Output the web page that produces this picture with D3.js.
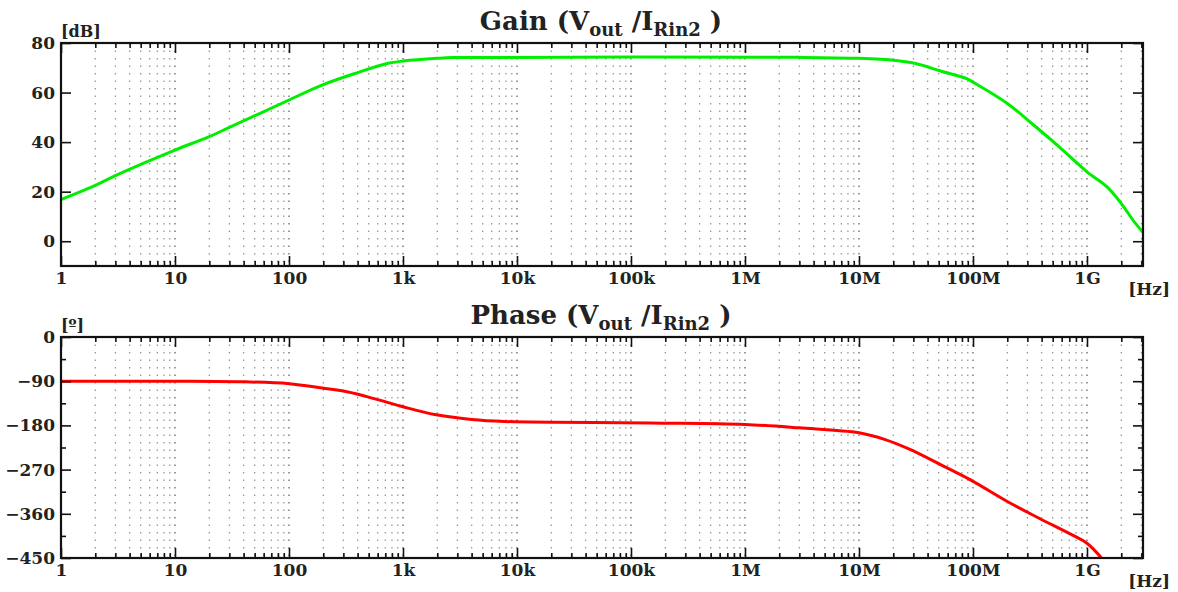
<!DOCTYPE html>
<html>
<head>
<meta charset="utf-8">
<script src="https://cdn.jsdelivr.net/npm/d3@7"></script>
<style>
  body { margin: 0; background: #fff; }
  svg text { font-family: "DejaVu Serif", serif; font-weight: bold; fill: #222; }
</style>
</head>
<body>
<div class="d3-chart"></div>
<script>
// values
const gainFreq = [1, 2, 3, 10, 19.5, 29, 100, 195, 380, 740, 1e3, 2e3, 2.8e3, 3e6, 1e7, 2.1e7, 3.2e7, 5.1e7, 8.8e7, 1e8, 2e8, 3.4e8, 5.7e8, 1e9, 1.5e9, 2e9, 2.6e9, 3.1e9];
const gainDb   = [16.8, 22.5, 26.5, 36.8, 42.0, 45.6, 57, 63, 67.7, 71.8, 72.7, 73.8, 74.1, 74.2, 73.8, 72.9, 71.6, 68.8, 65.6, 64.2, 55.6, 46.9, 38.1, 28, 21.9, 15.2, 7.8, 3.6];

const phaseFreq = [1, 10, 35, 100, 195, 330, 570, 1e3, 1.9e3, 4e3, 7.7e3, 1.48e5, 1e6, 3e6, 1e7, 1.7e7, 2.8e7, 5.1e7, 9.5e7, 2e8, 3.8e8, 7.4e8, 1e9, 1.4e9];
const phaseDeg  = [-90, -90, -91, -95, -104, -112, -126, -142, -158, -168, -172, -175, -178, -185, -195, -209, -229, -259, -291, -335, -369, -403, -420, -455];

const xMajor = [1, 10, 100, 1e3, 1e4, 1e5, 1e6, 1e7, 1e8, 1e9];
const xLabels = ["1", "10", "100", "1k", "10k", "100k", "1M", "10M", "100M", "1G"];
const gainTicks = [0, 20, 40, 60, 80];
const phaseTicks = [0, -90, -180, -270, -360, -450];
const phaseMinor = [-45, -135, -225, -315, -405];

const W = 1178, H = 592;
const left = 61, right = 1143;
const fMax = 3.1e9;

const svg = d3.select(".d3-chart")
  .append("svg")
  .attr("width", W)
  .attr("height", H);

const x = d3.scaleLog()
  .domain([1, fMax])
  .range([left, right]);

// minor positions 2..9 in every decade
const xMinor = [];
for (let d = 0; d < 10; d++) {
  for (let m = 2; m <= 9; m++) {
    const v = m * Math.pow(10, d);
    if (v < fMax) xMinor.push(v);
  }
}

function panel(opt) {
  const y = d3.scaleLinear().domain(opt.yDomain).range([opt.bottom, opt.top]);
  const g = svg.append("g");

  // dotted vertical grid
  g.append("g")
    .selectAll("line")
    .data(xMinor.concat(xMajor.slice(1)))
    .join("line")
    .attr("x1", d => x(d)).attr("x2", d => x(d))
    .attr("y1", opt.top).attr("y2", opt.bottom)
    .attr("stroke", d => xMajor.includes(d) ? "#666" : "#999")
    .attr("stroke-width", 1.3)
    .attr("stroke-dasharray", "1.4,6.1");

  // curve, clipped to the plot box
  const clipId = "clip" + opt.top;
  svg.append("clipPath").attr("id", clipId)
    .append("rect")
    .attr("x", left).attr("y", opt.top)
    .attr("width", right - left).attr("height", opt.bottom - opt.top);

  g.append("path")
    .datum(d3.zip(opt.xs, opt.ys))
    .attr("clip-path", `url(#${clipId})`)
    .attr("fill", "none")
    .attr("stroke", opt.color)
    .attr("stroke-width", 3)
    .attr("stroke-linejoin", "round")
    .attr("d", d3.line().curve(d3.curveCatmullRom.alpha(0.5))
      .x(d => x(d[0]))
      .y(d => y(d[1])));

  // X axes: bottom with labels, top mirrored, inward ticks
  const fmt = d => xLabels[xMajor.indexOf(d)];
  g.append("g")
    .attr("transform", `translate(0, ${opt.bottom})`)
    .call(d3.axisBottom(x).tickValues(xMajor).tickFormat(fmt).tickSizeInner(-10).tickSizeOuter(0).tickPadding(6));
  g.append("g")
    .attr("transform", `translate(0, ${opt.bottom})`)
    .call(d3.axisBottom(x).tickValues(xMinor).tickFormat("").tickSizeInner(-5).tickSizeOuter(0));
  g.append("g")
    .attr("transform", `translate(0, ${opt.top})`)
    .call(d3.axisTop(x).tickValues(xMajor).tickFormat("").tickSizeInner(-10).tickSizeOuter(0));
  g.append("g")
    .attr("transform", `translate(0, ${opt.top})`)
    .call(d3.axisTop(x).tickValues(xMinor).tickFormat("").tickSizeInner(-5).tickSizeOuter(0));

  // Y axes
  g.append("g")
    .attr("transform", `translate(${left}, 0)`)
    .call(d3.axisLeft(y).tickValues(opt.yTicks).tickSizeInner(-10).tickSizeOuter(0).tickPadding(6));
  g.append("g")
    .attr("transform", `translate(${right}, 0)`)
    .call(d3.axisRight(y).tickValues(opt.yTicks).tickFormat("").tickSizeInner(-10).tickSizeOuter(0));
  if (opt.yMinor) {
    g.append("g")
      .attr("transform", `translate(${left}, 0)`)
      .call(d3.axisLeft(y).tickValues(opt.yMinor).tickFormat("").tickSizeInner(-5).tickSizeOuter(0));
    g.append("g")
      .attr("transform", `translate(${right}, 0)`)
      .call(d3.axisRight(y).tickValues(opt.yMinor).tickFormat("").tickSizeInner(-5).tickSizeOuter(0));
  }

  g.selectAll(".domain").remove();
  g.selectAll(".tick line").attr("stroke", "#111").attr("stroke-width", 1.6);
  g.selectAll(".tick text")
    .style("font-family", "'DejaVu Serif', serif")
    .style("font-weight", "bold")
    .style("font-size", "17px")
    .attr("fill", "#222");

  // frame
  g.append("rect")
    .attr("x", left).attr("y", opt.top)
    .attr("width", right - left).attr("height", opt.bottom - opt.top)
    .attr("fill", "none")
    .attr("stroke", "#111")
    .attr("stroke-width", 2.2);

  // unit labels
  g.append("text").attr("x", left).attr("y", opt.top - 6)
    .style("font-size", "16px").text(opt.yUnit);
  g.append("text").attr("x", 1170).attr("y", opt.bottom + 29)
    .attr("text-anchor", "end")
    .style("font-size", "17px").text("[Hz]");

  // title with subscripts
  const t = g.append("text")
    .attr("x", 601).attr("y", opt.top - 13)
    .attr("text-anchor", "middle")
    .style("font-size", "26px");
  t.append("tspan").text(opt.title + " (V");
  t.append("tspan").attr("dy", 6).style("font-size", "18px").text("out");
  t.append("tspan").attr("dy", -6).text(" /I");
  t.append("tspan").attr("dy", 6).style("font-size", "18px").text("Rin2");
  t.append("tspan").attr("dy", -6).text(" )");
}

panel({
  title: "Gain", yUnit: "[dB]", color: "#00ee00",
  top: 43, bottom: 266, yDomain: [-10, 80], yTicks: gainTicks,
  xs: gainFreq, ys: gainDb
});

panel({
  title: "Phase", yUnit: "[º]", color: "#ff0000",
  top: 337, bottom: 558, yDomain: [-450, 0], yTicks: phaseTicks, yMinor: phaseMinor,
  xs: phaseFreq, ys: phaseDeg
});
</script>
</body>
</html>
